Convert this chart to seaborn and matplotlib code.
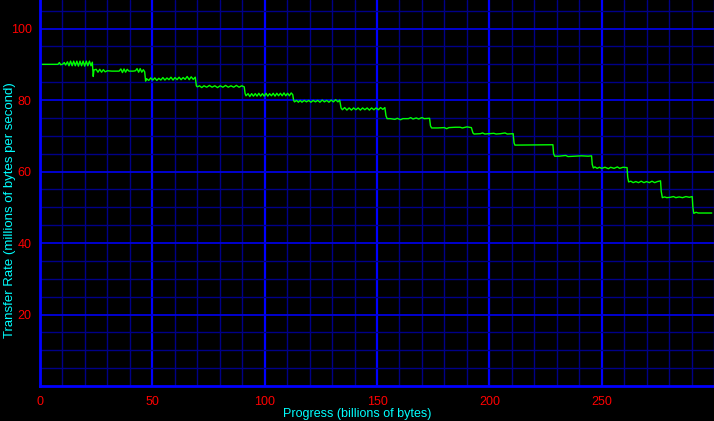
import matplotlib
matplotlib.use("Agg")
import matplotlib.pyplot as plt
import seaborn as sns
import pandas as pd
from matplotlib.ticker import MultipleLocator, FixedLocator

# ---- data (progress in billions of bytes, rate in MB/s) ----
PROGRESS = [
    0.0, 8.0, 8.6, 9.2, 10.0, 10.8, 11.4, 12.2, 12.9, 13.6, 14.3, 15.0, 15.7, 16.4, 17.1, 17.8,
    18.5, 19.2, 19.9, 20.6, 21.3, 22.0, 22.7, 23.3, 23.7, 24.0,
    25.0, 25.8, 26.6, 27.4, 28.2, 29.0, 30.0, 32.0, 34.0, 35.2, 36.0, 36.7, 37.4, 38.1, 38.8,
    39.6, 41.5, 42.5, 43.2, 43.9, 44.6, 45.3, 46.0, 46.6, 47.0, 47.4,
    48.4, 49.3, 50.2, 51.1, 52.0, 52.9, 53.8, 54.7, 55.6, 56.5, 57.4, 58.3, 59.2, 60.1, 61.0,
    61.9, 62.8, 63.7, 64.6, 65.5, 66.4, 67.3, 68.2, 69.1, 69.6, 70.0,
    71.0, 72.0, 73.0, 74.2, 75.4, 76.6, 77.8, 79.0, 80.2, 81.4, 82.6, 83.8, 85.0, 86.2, 87.4,
    88.6, 89.8, 90.9, 91.3, 91.7,
    92.6, 93.4, 94.2, 95.0, 95.8, 96.6, 97.4, 98.2, 99.0, 99.8, 100.6, 101.4, 102.2, 103.0,
    103.8, 104.6, 105.4, 106.2, 107.0, 107.8, 108.6, 109.4, 110.2, 111.0, 111.8, 112.5, 112.9, 113.3,
    114.2, 115.0, 115.8, 116.6, 117.6, 118.6, 119.6, 120.6, 121.6, 122.6, 123.6, 124.6, 125.6,
    126.6, 127.6, 128.6, 129.6, 130.6, 131.6, 132.6, 133.4, 134.0, 134.6,
    135.6, 136.6, 137.6, 138.6, 139.6, 140.6, 141.6, 142.6, 143.6, 144.6, 145.6, 146.6, 147.6,
    148.6, 149.6, 150.6, 151.6, 152.6, 153.5, 154.0, 154.5,
    156.0, 158.0, 159.0, 160.5, 161.5, 164.0, 165.0, 166.0, 167.5, 168.5, 170.0, 171.0, 173.4,
    173.8, 174.3,
    177.0, 180.0, 181.0, 182.0, 185.0, 187.0, 188.0, 190.0, 192.0, 192.7, 193.2,
    196.0, 197.0, 198.0, 200.0, 202.0, 203.0, 205.0, 207.0, 208.0, 210.6, 211.0, 211.4,
    228.3, 228.6, 229.1,
    231.0, 234.0, 235.0, 238.0, 241.0, 244.0, 245.5, 245.8, 246.3,
    247.0, 248.0, 249.0, 250.0, 251.5, 253.0, 254.0, 255.5, 257.0, 258.0, 259.5, 261.3, 261.6, 262.0,
    263.0, 264.0, 265.2, 266.4, 267.6, 268.8, 270.0, 271.2, 272.4, 273.6, 274.8, 276.2, 276.5, 277.0,
    278.0, 279.0, 280.5, 282.0, 283.0, 284.5, 286.0, 287.5, 289.0, 290.3, 290.6, 291.0,
    292.0, 293.0, 299.0,
]
RATE = [
    90.0, 90.0, 90.5, 89.9, 90.0, 90.5, 89.8, 90.7, 89.6, 90.9, 89.6, 90.9, 89.6, 90.9, 89.5, 90.9,
    89.6, 90.9, 89.5, 90.9, 89.6, 90.9, 89.6, 90.6, 86.6, 88.4,
    88.6, 87.8, 88.6, 87.8, 88.5, 87.9, 88.2, 88.1, 88.1, 88.1, 88.7, 87.7, 88.7, 87.8, 88.6,
    88.1, 88.1, 88.2, 88.8, 87.8, 88.8, 87.8, 88.5, 87.9, 85.3, 86.0,
    85.5, 86.2, 85.6, 86.2, 85.5, 86.1, 85.6, 86.3, 85.6, 86.2, 85.7, 86.4, 85.6, 86.3, 85.7,
    86.4, 85.7, 86.3, 85.8, 86.6, 85.7, 86.5, 85.8, 86.4, 84.0, 83.7,
    84.0, 83.5, 84.0, 83.6, 84.1, 83.6, 84.0, 83.5, 84.0, 83.6, 84.1, 83.6, 84.0, 83.6, 84.1,
    83.6, 84.0, 83.7, 81.8, 81.2,
    81.8, 81.0, 81.8, 81.1, 81.8, 81.1, 81.9, 81.1, 81.8, 81.1, 81.9, 81.1, 81.8, 81.2,
    81.9, 81.1, 81.9, 81.2, 81.9, 81.2, 82.0, 81.2, 81.9, 81.2, 82.0, 81.5, 79.9, 79.5,
    79.9, 79.4, 79.9, 79.4, 79.9, 79.5, 79.9, 79.4, 79.9, 79.5, 79.9, 79.4, 80.0,
    79.5, 79.9, 79.4, 80.0, 79.5, 80.1, 79.5, 80.0, 77.8, 77.3,
    77.9, 77.2, 77.8, 77.2, 77.8, 77.3, 77.8, 77.2, 77.8, 77.3, 77.8, 77.2, 77.8,
    77.3, 77.8, 77.3, 77.9, 77.4, 77.9, 75.6, 74.8,
    74.8, 74.6, 74.9, 74.5, 74.8, 74.8, 75.1, 74.7, 75.0, 74.7, 75.1, 74.8, 74.9,
    72.8, 72.2,
    72.2, 72.3, 72.0, 72.3, 72.4, 72.4, 72.2, 72.5, 72.3, 70.8, 70.5,
    70.6, 70.8, 70.5, 70.6, 70.7, 70.5, 70.6, 70.8, 70.5, 70.6, 68.0, 67.4,
    67.5, 65.0, 64.3,
    64.3, 64.5, 64.2, 64.3, 64.4, 64.3, 64.4, 62.0, 61.0,
    61.3, 60.9, 61.2, 60.9, 61.2, 60.8, 61.2, 60.9, 61.3, 60.9, 61.2, 61.1, 58.4, 57.1,
    57.3, 56.9, 57.2, 56.9, 57.3, 56.9, 57.2, 56.9, 57.3, 56.9, 57.2, 57.4, 54.5, 52.7,
    52.9, 52.7, 52.8, 53.0, 52.7, 52.9, 52.7, 53.0, 52.8, 53.0, 50.0, 48.3,
    48.6, 48.4, 48.4,
]
X_TICKS = [0, 50, 100, 150, 200, 250]
X_TICK_LABELS = ["0", "50", "100", "150", "200", "250"]
Y_TICKS = [20, 40, 60, 80, 100]
Y_TICK_LABELS = ["20", "40", "60", "80", "100"]
X_LABEL = "Progress (billions of bytes)"
Y_LABEL = "Transfer Rate (millions of bytes per second)"

df = pd.DataFrame({"progress": PROGRESS, "rate": RATE})

sns.set_style("dark", {"axes.facecolor": "black", "figure.facecolor": "black"})
plt.rcParams["font.family"] = ["Liberation Sans", "DejaVu Sans"]

fig = plt.figure(figsize=(7.14, 4.21), dpi=100, facecolor="black")
W, H = 714, 421
ax = fig.add_axes([40 / W, (H - 386) / H, 674 / W, 386 / H])
ax.set_facecolor("black")

# grid
ax.set_xlim(0, 300)
ax.set_ylim(0, 108)
ax.xaxis.set_major_locator(FixedLocator(X_TICKS))
ax.xaxis.set_minor_locator(MultipleLocator(10))
ax.yaxis.set_major_locator(FixedLocator(Y_TICKS))
ax.yaxis.set_minor_locator(MultipleLocator(5))
ax.set_xticklabels(X_TICK_LABELS)
ax.set_yticklabels(Y_TICK_LABELS)
ax.grid(which="minor", color="#000088", linewidth=1.0)
ax.grid(which="major", axis="x", color="#0000FF", linewidth=1.6)
ax.grid(which="major", axis="y", color="#0000E0", linewidth=1.3)
ax.set_axisbelow(True)

sns.lineplot(data=df, x="progress", y="rate", ax=ax, color="#00FF00",
             linewidth=1.0, estimator=None, sort=False)

for side in ["top", "right"]:
    ax.spines[side].set_visible(False)
for side in ["left", "bottom"]:
    ax.spines[side].set_visible(True)
    ax.spines[side].set_color("#0000FF")
    ax.spines[side].set_linewidth(2.0)
    ax.spines[side].set_zorder(5)

ax.tick_params(which="both", length=0, colors="#FF0000", labelsize=9)
ax.tick_params(axis="x", pad=7)
ax.tick_params(axis="y", pad=6)

ax.set_xlabel(X_LABEL, color="#00FFFF", fontsize=9)
ax.set_ylabel(Y_LABEL, color="#00FFFF", fontsize=9.5)
ax.xaxis.set_label_coords(0.470, -0.058)
ax.yaxis.set_label_coords(-0.036, 0.455)

fig.savefig("out.png", dpi=100, facecolor="black")
